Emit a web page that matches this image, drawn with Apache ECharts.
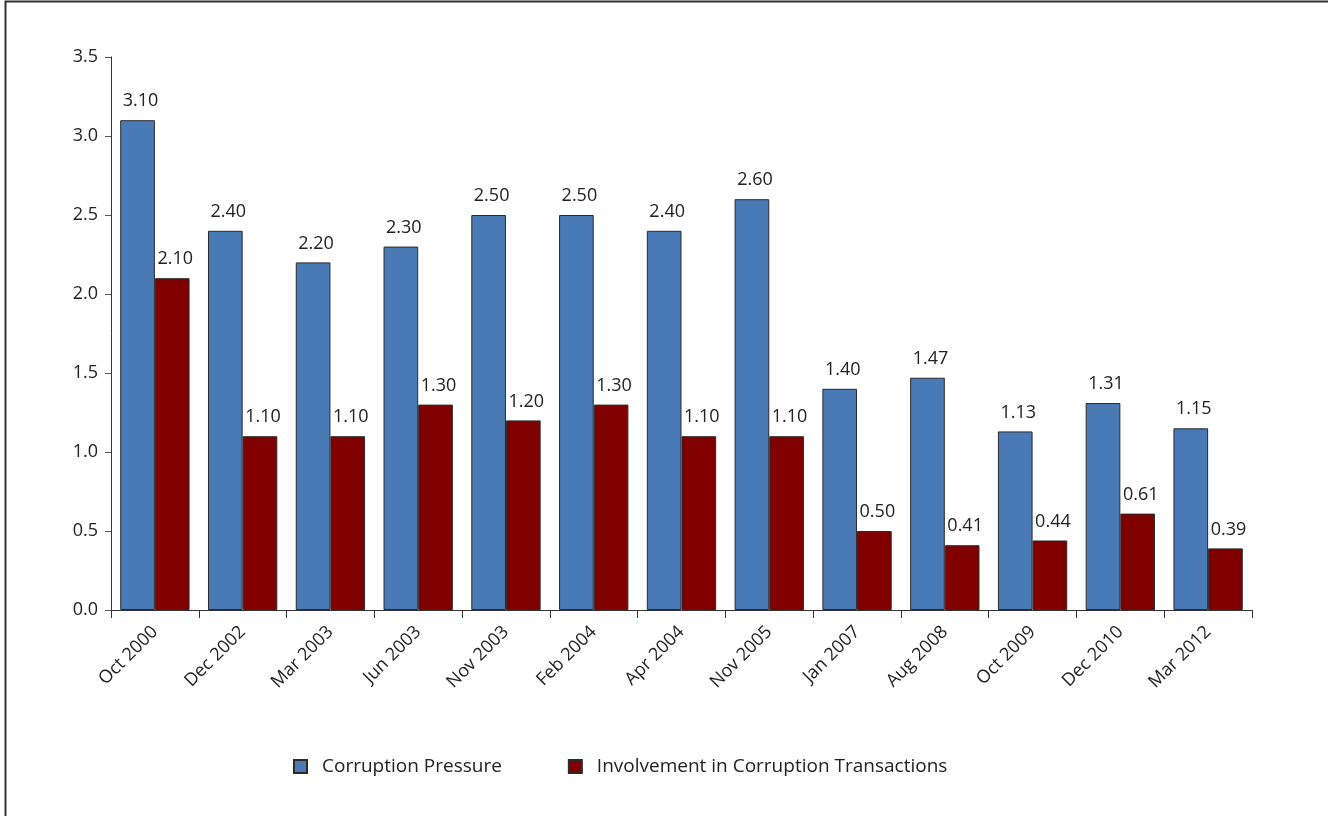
<!DOCTYPE html>
<html>
<head>
<meta charset="utf-8">
<script src="https://cdn.jsdelivr.net/npm/echarts@6/dist/echarts.min.js"></script>
<style>html,body{margin:0;padding:0;background:#fff;}#c{width:1328px;height:816px;}</style>
</head>
<body>
<div id="c"></div>
<script>
const categories = ['Oct 2000','Dec 2002','Mar 2003','Jun 2003','Nov 2003','Feb 2004','Apr 2004','Nov 2005','Jan 2007','Aug 2008','Oct 2009','Dec 2010','Mar 2012'];
const corruptionPressure = [3.10, 2.40, 2.20, 2.30, 2.50, 2.50, 2.40, 2.60, 1.40, 1.47, 1.13, 1.31, 1.15];
const involvement = [2.10, 1.10, 1.10, 1.30, 1.20, 1.30, 1.10, 1.10, 0.50, 0.41, 0.44, 0.61, 0.39];
const seriesNames = ['Corruption Pressure', 'Involvement in Corruption Transactions'];

const FONT = '"Open Sans", "Noto Sans", sans-serif';
const TXT = '#222';
const chart = echarts.init(document.getElementById('c'), null, {renderer: 'canvas'});
const labelCfg = {
  show: true, position: 'top', distance: 10, offset: [3, 0],
  color: TXT, fontFamily: FONT, fontSize: 18,
  formatter: p => p.value.toFixed(2)
};
chart.setOption({
  animation: false,
  backgroundColor: '#fff',
  graphic: [{
    type: 'rect', silent: true,
    shape: {x: 5.5, y: 1.5, width: 1400, height: 900},
    style: {fill: 'none', stroke: '#333', lineWidth: 2}
  }],
  grid: {left: 111, right: 76, top: 57, bottom: 206, containLabel: false},
  legend: {
    top: 752, left: 288,
    itemWidth: 13, itemHeight: 13, itemGap: 66,
    icon: 'rect',
    textStyle: {color: TXT, fontFamily: FONT, fontSize: 19, padding: [0,0,0,10]},
    data: seriesNames
  },
  xAxis: {
    type: 'category', data: categories,
    axisLine: {lineStyle: {color: '#333', width: 1}},
    axisTick: {show: true, length: 8, alignWithLabel: false, lineStyle: {color: '#333'}},
    axisLabel: {rotate: 45, color: TXT, fontFamily: FONT, fontSize: 18, margin: 19, interval: 0}
  },
  yAxis: {
    type: 'value', min: 0, max: 3.5, interval: 0.5,
    axisLine: {show: true, lineStyle: {color: '#333', width: 1}},
    axisTick: {show: true, length: 6, lineStyle: {color: '#555'}},
    splitLine: {show: false},
    axisLabel: {color: TXT, fontFamily: FONT, fontSize: 18, margin: 13, formatter: v => v.toFixed(1)}
  },
  series: [
    {
      name: seriesNames[0], type: 'bar', data: corruptionPressure,
      barGap: '0%', barCategoryGap: '21%',
      itemStyle: {color: '#4A7AB5', borderColor: '#2a2a2a', borderWidth: 1},
      label: labelCfg
    },
    {
      name: seriesNames[1], type: 'bar', data: involvement,
      itemStyle: {color: '#800000', borderColor: '#2a2a2a', borderWidth: 1},
      label: labelCfg
    }
  ]
});
</script>
</body>
</html>
